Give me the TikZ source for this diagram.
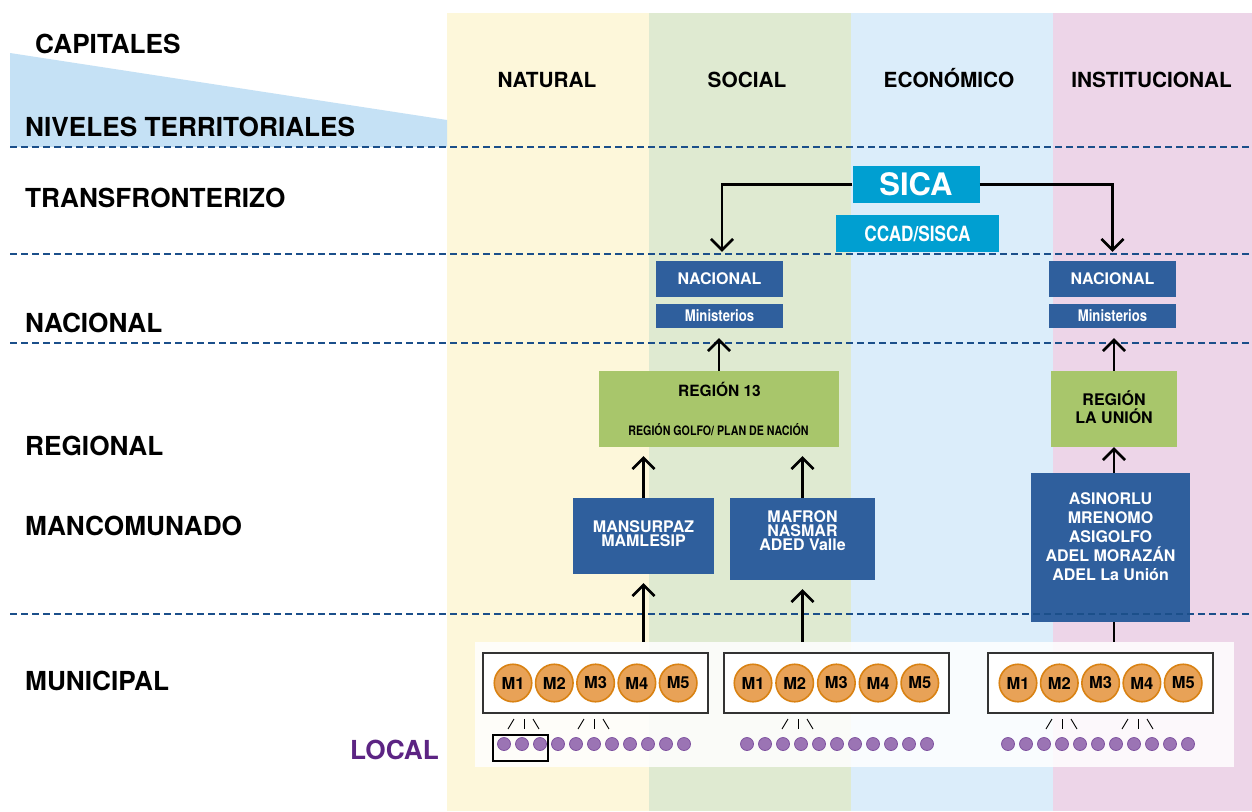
\documentclass[tikz,border=0pt]{standalone}
\usepackage{fontspec}
\setmainfont{TeX Gyre Heros}
\newfontfamily\condfont[FakeStretch=0.82]{TeX Gyre Heros}
\usetikzlibrary{arrows.meta}
\newcommand\setfs[1]{\fontsize{#1}{#1}\selectfont}
\definecolor{colnat}{HTML}{FDF7DA}
\definecolor{colsoc}{HTML}{DFEAD1}
\definecolor{coleco}{HTML}{DBEDFA}
\definecolor{colins}{HTML}{EDD5E8}
\definecolor{tri}{HTML}{C5E1F5}
\definecolor{dashcol}{HTML}{1B4F8A}
\definecolor{sicablue}{HTML}{009FD1}
\definecolor{navy}{HTML}{2F5F9D}
\definecolor{boxgreen}{HTML}{A8C66B}
\definecolor{morange}{HTML}{E8A257}
\definecolor{mstroke}{HTML}{D98213}
\definecolor{dotfill}{HTML}{9B74B4}
\definecolor{dotstroke}{HTML}{7F53A0}
\definecolor{localcol}{HTML}{5C2483}
\definecolor{boxline}{HTML}{333333}
\begin{document}
\begin{tikzpicture}[x=1pt,y=-1pt,
  lbl/.style={anchor=base west,inner sep=0,font=\bfseries\setfs{26.2}},
  hdr/.style={anchor=base,inner sep=0,font=\bfseries\setfs{20.8}},
  navybox/.style={fill=navy,draw=none,inner sep=0,text=white},
  greenbox/.style={fill=boxgreen,draw=none,inner sep=0},
  sicabox/.style={fill=sicablue,draw=none,inner sep=0,text=white},
  boxtxt/.style={inner sep=0,align=center,anchor=north,font=\bfseries\setfs{16}},
  muni/.style={circle,fill=morange,draw=mstroke,line width=1.6pt,minimum size=37.5pt,inner sep=0,font=\bfseries\setfs{16.5}},
  pdot/.style={circle,fill=dotfill,draw=dotstroke,line width=0.8pt,minimum size=13pt,inner sep=0},
  mbox/.style={draw=boxline,line width=1.4pt,fill=white,inner sep=0},
  dashline/.style={draw=dashcol,line width=1.9pt,dash pattern=on 7pt off 4pt},
  arr/.style={line width=2.6pt,-{Straight Barb[length=11pt,width=22pt,line width=2.6pt]}},
  plainline/.style={line width=2.6pt}]
\useasboundingbox (0,0) rectangle (1252,811);
\fill[white] (0,0) rectangle (1252,811);
% column backgrounds
\fill[colnat] (447,13) rectangle (649,811);
\fill[colsoc] (649,13) rectangle (851,811);
\fill[coleco] (851,13) rectangle (1053,811);
\fill[colins] (1053,13) rectangle (1252,811);
% triangle
\fill[tri] (10,53) -- (447,120) -- (447,147) -- (10,147) -- cycle;
% left labels
\node[lbl] (capitales) at (35,53) {CAPITALES};
\node[lbl] (niveles) at (25,136.5) {NIVELES TERRITORIALES};
\node[lbl] (ltrans) at (25,207.5) {TRANSFRONTERIZO};
\node[lbl] (lnac) at (25,332.5) {NACIONAL};
\node[lbl] (lreg) at (25,455.5) {REGIONAL};
\node[lbl] (lman) at (25,535.5) {MANCOMUNADO};
\node[lbl] (lmun) at (25,690.5) {MUNICIPAL};
\node[lbl,text=localcol] (llocal) at (350,759.5) {LOCAL};
% headers
\node[hdr] (hnat) at (547,87.5) {NATURAL};
\node[hdr] (hsoc) at (747,87.5) {SOCIAL};
\node[hdr] (heco) at (949,87.5) {ECONÓMICO};
\node[hdr] (hins) at (1151.5,87.5) {INSTITUCIONAL};
% SICA
\node[sicabox,minimum width=127pt,minimum height=37pt,font=\bfseries\setfs{31}] (sica) at (916,184.5) {SICA};
\node[sicabox,minimum width=163pt,minimum height=37pt,font=\condfont\bfseries\setfs{21}] (ccad) at (917.5,233.5) {CCAD/SISCA};
% Nacional
\node[navybox,minimum width=127pt,minimum height=36pt,font=\bfseries\setfs{16}] (nac1) at (719.5,279) {NACIONAL};
\node[navybox,minimum width=127pt,minimum height=24pt,font=\condfont\bfseries\setfs{16}] (min1) at (719.5,316) {Ministerios};
\node[navybox,minimum width=127pt,minimum height=36pt,font=\bfseries\setfs{16}] (nac2) at (1112.5,279) {NACIONAL};
\node[navybox,minimum width=127pt,minimum height=24pt,font=\condfont\bfseries\setfs{16}] (min2) at (1112.5,316) {Ministerios};
% Regional
\node[greenbox,minimum width=240pt,minimum height=76pt] (reg13) at (719,409) {};
\node[inner sep=0,anchor=base,font=\bfseries\setfs{15.5}] (reg13a) at (719.5,396.6) {REGIÓN 13};
\node[inner sep=0,anchor=base,font=\condfont\bfseries\setfs{13}] (reg13b) at (718.5,435) {REGIÓN GOLFO/ PLAN DE NACIÓN};
\node[greenbox,minimum width=126pt,minimum height=76pt] (reglu) at (1114,409) {};
\node[boxtxt,text=black] (reglut) at (1114,391) {REGIÓN\\[2pt]LA UNIÓN};
% Mancomunado
\node[navybox,minimum width=141pt,minimum height=76pt] (mansur) at (643.5,536) {};
\node[boxtxt,text=white,font=\bfseries\fontsize{16}{14.5}\selectfont] (mansurt) at (643.5,520) {MANSURPAZ\\MAMLESIP};
\node[navybox,minimum width=145pt,minimum height=82pt] (mafron) at (802.5,539) {};
\node[boxtxt,text=white,font=\bfseries\fontsize{16}{14}\selectfont] (mafront) at (802.5,510) {MAFRON\\NASMAR\\ADED Valle};
\node[navybox,minimum width=159pt,minimum height=149pt] (asin) at (1110.5,547.5) {};
\node[boxtxt,text=white,font=\bfseries\fontsize{16}{19}\selectfont] (asint) at (1110.5,492) {ASINORLU\\MRENOMO\\ASIGOLFO\\ADEL MORAZÁN\\ADEL La Unión};
% dashed level lines
\foreach \yy in {147,254,343,614} \draw[dashline] (10,\yy) -- (1252,\yy);
% municipal panel
\node[fill=white,fill opacity=0.85,draw=none,minimum width=759pt,minimum height=125pt,inner sep=0] (panel) at (854.5,704.5) {};
\node[mbox,minimum width=225pt,minimum height=60pt] (mb1) at (595.5,683) {};
\node[mbox,minimum width=225pt,minimum height=60pt] (mb2) at (836.5,683) {};
\node[mbox,minimum width=225pt,minimum height=60pt] (mb3) at (1100.5,683) {};
\foreach \i in {1,...,5} {
  \node[muni] (a\i) at ({513+41.3*(\i-1)},683) {M\i};
  \node[muni] (b\i) at ({753+41.7*(\i-1)},683) {M\i};
  \node[muni] (c\i) at ({1018+41.3*(\i-1)},683) {M\i};
}
\foreach \i in {0,...,10} {
  \node[pdot] (da\i) at ({504+18*\i},744) {};
  \node[pdot] (db\i) at ({747+18*\i},744) {};
  \node[pdot] (dc\i) at ({1008+18*\i},744) {};
}
\node[draw=black,line width=1.2pt,minimum width=55pt,minimum height=26pt,inner sep=0] (selbox) at (520.5,748) {};
\foreach \cx in {524,594,798,1062,1138} {
  \draw[line width=0.9pt] (\cx-16,729) -- (\cx-10,719);
  \draw[line width=0.9pt] (\cx,719) -- (\cx,729);
  \draw[line width=0.9pt] (\cx+9,719) -- (\cx+15,729);
}
% connectors
\draw[arr,shorten >=9pt] (sica.west) -| ([xshift=2.5pt]nac1.north);
\draw[arr,shorten >=9pt] (sica.east) -| (nac2.north);
\draw[arr,shorten >=10pt] (reg13.north) -- (reg13.north |- min1.south);
\draw[arr,shorten >=10pt] (reglu.north) -- (reglu.north |- min2.south);
\draw[arr,shorten >=9pt] (mansur.north) -- (mansur.north |- reg13.south);
\draw[arr,shorten >=9pt] (mafron.north) -- (mafron.north |- reg13.south);
\draw[arr] (asin.north -| reglu.south) -- (reglu.south);
\coordinate (p1) at (mansur.south |- panel.north);
\coordinate (p2) at (mafron.south |- panel.north);
\coordinate (p3) at (reglu.south |- panel.north);
\draw[arr,shorten >=9pt] (p1) -- (mansur.south);
\draw[arr,shorten >=9pt] (p2) -- (mafron.south);
\draw[plainline] (p3) -- (p3 |- asin.south);
\end{tikzpicture}
\end{document}
